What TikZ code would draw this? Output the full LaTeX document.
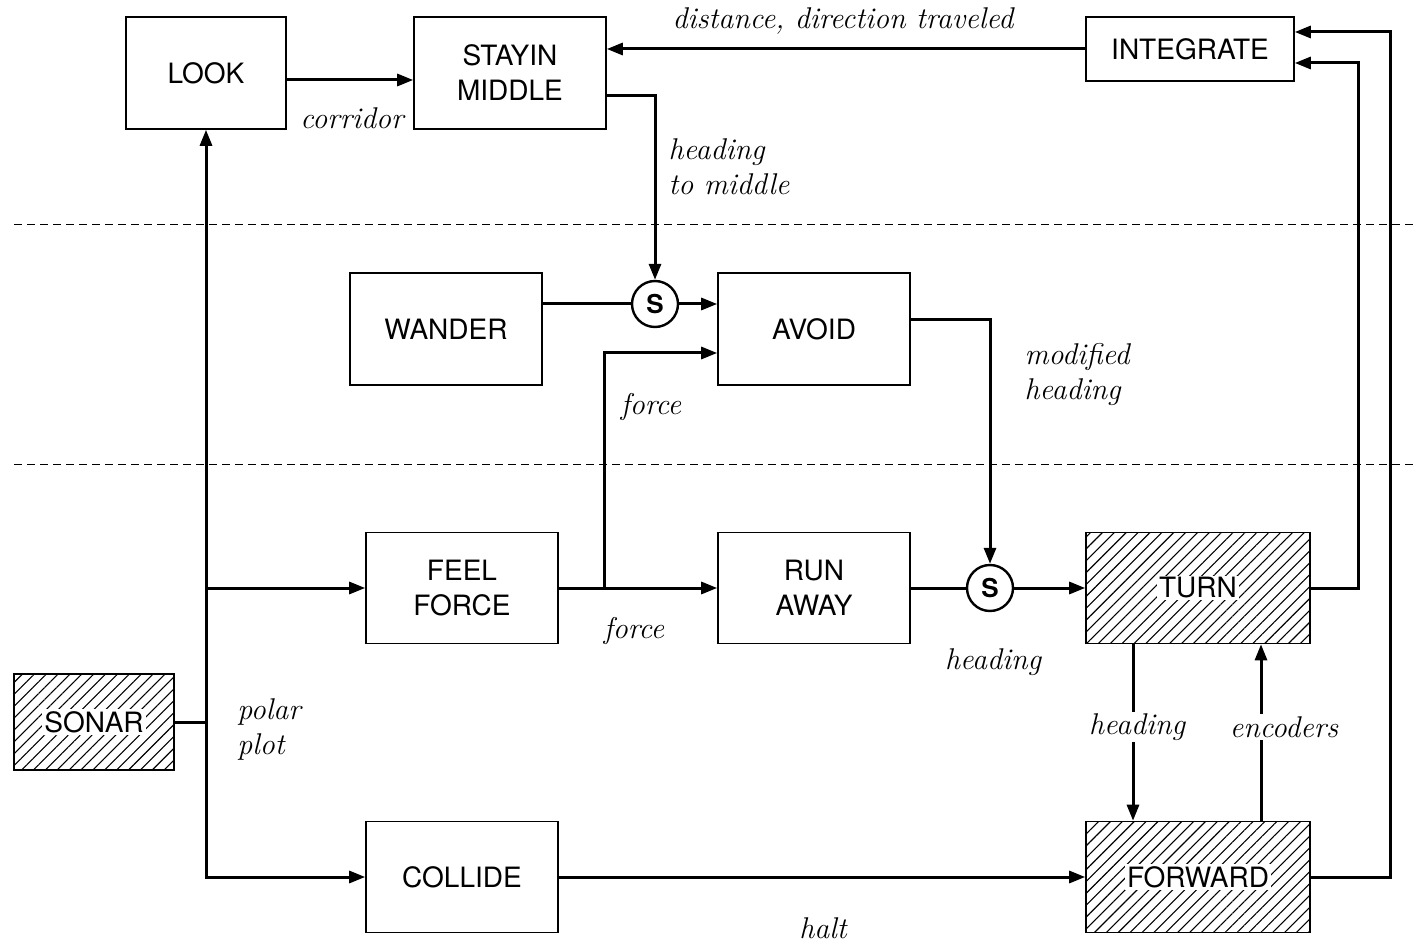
\documentclass[tikz,border=0pt]{standalone}
\usepackage{fontspec}
\setsansfont{TeX Gyre Heros}
\usetikzlibrary{positioning, arrows.meta, patterns.meta, calc}
\newcommand{\onwhite}[1]{{\setlength{\fboxsep}{1pt}\colorbox{white}{#1}}}
\tikzset{
    blk/.style={rectangle, draw, line width=0.8pt, fill=white, align=center, inner sep=0pt, font=\sffamily\fontsize{14}{17.5}\selectfont},
    hatched/.style={blk, pattern={Lines[angle=45, distance=4.2pt, line width=0.55pt]}},
    sw/.style={circle, draw, line width=1.2pt, fill=white, minimum size=23pt, inner sep=0pt, font=\sffamily\bfseries\fontsize{13}{13}\selectfont},
    wire/.style={line width=1.5pt},
    arr/.style={-{Stealth[length=8pt, width=6pt, inset=0pt]}, line width=1.5pt},
    arrboth/.style={{Stealth[length=8pt, width=6pt, inset=0pt]}-{Stealth[length=8pt, width=6pt, inset=0pt]}, line width=1.5pt},
    lbl/.style={font=\itshape\fontsize{15}{17.5}\selectfont, align=left, inner sep=1pt},
    layer/.style={dash pattern=on 4pt off 2.5pt, line width=0.5pt}
}
\begin{document}
\begin{tikzpicture}[x=0.5pt, y=-0.5pt]
    \useasboundingbox (0,0) rectangle (1414,946);
    % === layer separators ===
    \draw[layer] (14,225) -- (1414,225);
    \draw[layer] (14,465) -- (1414,465);

    % === top layer ===
    \node[blk, minimum width=80pt, minimum height=56pt] (look) at (206,73) {LOOK};
    \node[blk, minimum width=96pt, minimum height=56pt] (stayin) at (510,73) {STAYIN\\MIDDLE};
    \node[blk, minimum width=104pt, minimum height=32pt] (integrate) at (1190,49) {INTEGRATE};

    % === middle layer ===
    \node[blk, minimum width=96pt, minimum height=56pt] (wander) at (446,329) {WANDER};
    \node[blk, minimum width=96pt, minimum height=56pt] (avoid) at (814,329) {AVOID};
    \node[sw] (s1) at (655,304) {S};

    % === bottom layer ===
    \node[hatched, minimum width=80pt, minimum height=48pt] (sonar) at (94,722) {\onwhite{SONAR}};
    \node[blk, minimum width=96pt, minimum height=55.5pt] (feel) at (462,588) {FEEL\\FORCE};
    \node[blk, minimum width=96pt, minimum height=55.5pt] (run) at (814,588) {RUN\\AWAY};
    \node[sw] (s2) at (990,588) {S};
    \node[hatched, minimum width=112pt, minimum height=55.5pt] (turn) at (1198,588) {\onwhite{TURN}};
    \node[blk, minimum width=96pt, minimum height=55.5pt] (collide) at (462,877) {COLLIDE};
    \node[hatched, minimum width=112pt, minimum height=55.5pt] (forward) at (1198,877) {\onwhite{FORWARD}};

    \coordinate (trunk) at (206,877);
    \coordinate (fork) at (604,588);

    % === connectors ===
    \draw[wire] (sonar.east) -- (sonar.east -| trunk);
    \draw[arrboth] (look.south) |- (collide.west);
    \draw[arr] (feel.west -| trunk) -- (feel.west);
    \draw[arr] ([yshift=-3.5pt]look.east) -- ([yshift=-3.5pt]stayin.west);
    \draw[arr] (integrate.west) -- (integrate.west -| stayin.east);
    \draw[arr] ([yshift=-11.5pt]stayin.east) -| (s1.north);
    \draw[wire] (wander.east |- s1) -- (s1);
    \draw[arr] (s1) -- (s1 -| avoid.west);
    \draw[arr] (feel.east) -- (run.west);
    \draw[arr] (fork) |- ([yshift=-12pt]avoid.west);
    \draw[arr] ([yshift=4.5pt]avoid.east) -| (s2.north);
    \draw[wire] (run.east) -- (s2);
    \draw[arr] (s2) -- (turn.west);
    \draw[arr] (collide.east) -- (forward.west);
    \draw[arr] (turn.east) -| ([xshift=32pt, yshift=-7pt]integrate.east) -- ([yshift=-7pt]integrate.east);
    \draw[arr] (forward.east) -| ([xshift=48pt, yshift=8.5pt]integrate.east) -- ([yshift=8.5pt]integrate.east);
    \draw[arr] ([xshift=-32.5pt]turn.south) -- ([xshift=-32.5pt]forward.north);
    \draw[arr] ([xshift=31.5pt]forward.north) -- ([xshift=31.5pt]turn.south);

    % === labels ===
    \node[lbl] (ldist) at (843,21) {distance, direction traveled};
    \node[lbl] (lcorr) at (352,118) {corridor};
    \node[lbl] (ltomid) at (729,167) {heading\\to middle};
    \node[lbl] (lforce1) at (651,407) {force};
    \node[lbl] (lmod) at (1077,375) {modified\\heading};
    \node[lbl] (lforce2) at (634,631) {force};
    \node[lbl] (lhead) at (993,662) {heading};
    \node[lbl] (lpolar) at (269,729) {polar\\plot};
    \node[lbl, fill=white] (lhead2) at (1137,727) {heading};
    \node[lbl, fill=white] (lenc) at (1284,727) {encoders};
    \node[lbl] (lhalt) at (823,928) {halt};
\end{tikzpicture}
\end{document}
